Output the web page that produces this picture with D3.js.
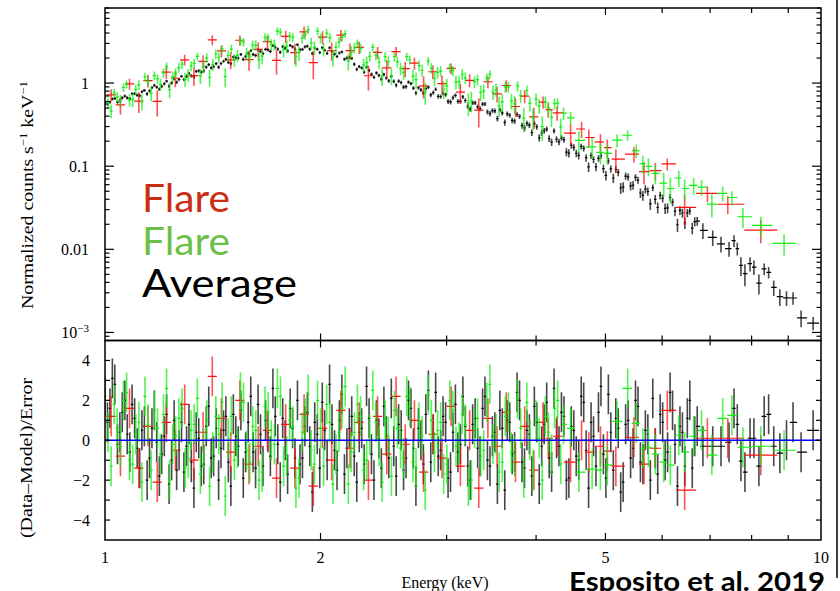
<!DOCTYPE html>
<html>
<head>
<meta charset="utf-8">
<script src="https://cdn.jsdelivr.net/npm/d3@7"></script>
<style>
  body { margin: 0; background: #fff; }
  svg { display: block; }
</style>
</head>
<body>
<div id="chart"></div>
<script>
// each bin: [energy keV, model counts s^-1 keV^-1, error as fraction of model, (data-model)/error]
const averagePoints = [
  [1.000,.52,.045,2.2],[1.008,.535,.045,0.9],[1.016,.55,.045,1.6],[1.024,.565,.045,3.1],[1.032,.58,.045,2.8],[1.041,.595,.045,-0.2],[1.049,.61,.045,0.4],[1.057,.625,.045,1.4],[1.066,.64,.045,2.0],[1.074,.655,.045,0.3],
  [1.083,.67,.045,-0.6],[1.091,.69,.045,1.8],[1.100,.71,.045,1.1],[1.109,.73,.045,-0.4],[1.118,.75,.045,-1.4],[1.126,.77,.045,0.5],[1.135,.79,.045,0.7],[1.145,.815,.045,-2.0],[1.154,.84,.045,-0.9],[1.163,.86,.045,0.6],
  [1.172,.88,.045,1.5],[1.181,.90,.045,-0.1],[1.191,.92,.045,-1.8],[1.200,.945,.045,-0.7],[1.210,.97,.045,0.2],[1.219,.995,.045,1.3],[1.229,1.02,.045,-2.2],[1.239,1.05,.045,-1.0],[1.249,1.08,.045,1.0],[1.259,1.10,.045,-1.5],
  [1.269,1.13,.045,-0.5],[1.279,1.16,.045,0.9],[1.289,1.19,.045,-1.6],[1.300,1.22,.045,-0.3],[1.310,1.26,.045,0.8],[1.320,1.29,.045,-1.1],[1.331,1.33,.045,-2.4],[1.341,1.36,.045,0.4],[1.352,1.40,.045,0.1],[1.363,1.44,.045,-1.3],
  [1.374,1.48,.045,-1.2],[1.385,1.51,.045,0.7],[1.396,1.55,.045,1.7],[1.407,1.59,.045,-0.9],[1.418,1.63,.045,-0.8],[1.430,1.67,.045,0.6],[1.441,1.71,.045,-2.0],[1.452,1.75,.045,-0.4],[1.464,1.79,.045,0.5],[1.475,1.83,.045,1.2],
  [1.487,1.87,.045,-1.1],[1.499,1.91,.045,-2.3],[1.511,1.95,.045,1.3],[1.523,1.99,.045,0.2],[1.535,2.03,.045,-0.3],[1.548,2.07,.045,1.5],[1.560,2.11,.045,-1.9],[1.572,2.15,.045,-0.6],[1.585,2.19,.045,0.9],[1.598,2.23,.045,2.2],
  [1.610,2.27,.045,-0.6],[1.623,2.30,.045,-1.4],[1.636,2.34,.045,1.8],[1.649,2.38,.045,0.3],[1.662,2.41,.045,-1.3],[1.676,2.44,.045,1.0],[1.689,2.47,.045,0.4],[1.702,2.50,.045,-0.8],[1.716,2.53,.045,2.6],[1.729,2.56,.045,1.2],
  [1.743,2.58,.045,-0.2],[1.757,2.60,.045,-2.1],[1.771,2.62,.045,1.1],[1.785,2.63,.045,0.0],[1.799,2.64,.045,-1.7],[1.814,2.65,.045,1.6],[1.828,2.66,.045,0.6],[1.842,2.66,.045,-0.9],[1.857,2.66,.045,2.0],[1.872,2.66,.045,-1.2],
  [1.887,2.65,.045,-0.9],[1.902,2.64,.045,0.7],[1.917,2.62,.045,1.4],[1.932,2.60,.045,-0.3],[1.948,2.57,.045,-2.6],[1.963,2.55,.045,0.9],[1.979,2.52,.045,0.3],[1.995,2.49,.045,-1.4],[2.011,2.46,.045,1.9],[2.027,2.43,.045,0.5],
  [2.043,2.39,.045,-1.0],[2.059,2.36,.045,2.8],[2.075,2.32,.045,0.8],[2.092,2.28,.045,-0.5],[2.109,2.24,.045,-1.5],[2.125,2.20,.045,1.0],[2.142,2.15,.045,2.3],[2.160,2.10,.045,-1.7],[2.177,2.04,.045,-0.4],[2.194,1.97,.045,0.6],
  [2.211,1.88,.045,1.2],[2.229,1.75,.045,-0.8],[2.247,1.62,.045,-2.1],[2.265,1.55,.045,0.4],[2.283,1.48,.045,0.6],[2.301,1.43,.045,-1.2],[2.319,1.39,.045,2.7],[2.338,1.355,.045,1.1],[2.356,1.32,.045,-0.7],[2.375,1.29,.045,-2.0],
  [2.394,1.26,.05,1.0],[2.413,1.23,.05,0.1],[2.432,1.20,.05,-1.4],[2.452,1.17,.05,1.7],[2.471,1.14,.05,0.2],[2.491,1.115,.05,-0.9],[2.511,1.09,.05,2.1],[2.531,1.065,.05,-0.3],[2.551,1.04,.052,-1.8],[2.571,1.015,.052,0.8],
  [2.592,.99,.052,0.5],[2.612,.97,.052,-1.5],[2.633,.95,.052,-0.9],[2.654,.93,.052,2.0],[2.675,.91,.052,1.6],[2.696,.89,.052,-0.4],[2.718,.87,.055,-2.3],[2.740,.85,.055,0.6],[2.762,.83,.055,0.0],[2.784,.815,.055,-1.2],
  [2.806,.80,.055,1.3],[2.829,.785,.055,2.5],[2.851,.77,.058,-1.1],[2.874,.755,.058,0.3],[2.896,.74,.058,2.4],[2.920,.725,.058,-0.8],[2.943,.71,.058,-0.5],[2.966,.70,.058,1.2],[2.990,.69,.058,0.9],[3.014,.675,.058,-1.9],
  [3.038,.66,.062,-1.6],[3.062,.65,.062,0.4],[3.086,.64,.062,1.8],[3.111,.625,.062,-0.6],[3.136,.61,.062,-0.2],[3.161,.60,.062,2.2],[3.186,.59,.065,0.7],[3.211,.575,.065,-1.3],[3.237,.56,.065,-2.0],[3.262,.55,.065,0.8],
  [3.288,.54,.065,1.1],[3.315,.53,.065,-0.4],[3.341,.52,.065,-0.8],[3.368,.505,.065,1.6],[3.394,.49,.065,2.2],[3.421,.48,.065,-1.0],[3.449,.47,.068,-1.3],[3.476,.46,.068,0.2],[3.504,.45,.068,0.4],[3.532,.44,.068,-2.2],
  [3.560,.43,.072,1.5],[3.588,.42,.072,0.6],[3.617,.41,.072,-2.5],[3.646,.397,.072,1.0],[3.675,.385,.072,0.9],[3.704,.375,.072,-0.7],[3.733,.365,.075,-0.6],[3.763,.355,.075,2.4],[3.793,.345,.075,2.0],[3.823,.335,.075,-1.1],
  [3.854,.325,.078,-1.4],[3.884,.315,.078,0.5],[3.915,.305,.078,0.3],[3.946,.295,.078,-1.8],[3.978,.285,.082,1.7],[4.009,.276,.082,0.9],[4.041,.268,.082,-2.2],[4.073,.259,.082,-0.3],[4.106,.25,.085,0.8],[4.139,.241,.085,1.9],
  [4.172,.233,.085,-0.9],[4.205,.225,.085,-1.6],[4.238,.217,.088,2.6],[4.272,.209,.088,0.1],[4.306,.202,.088,-0.3],[4.340,.195,.088,1.4],[4.375,.188,.092,1.2],[4.410,.181,.092,-2.0],[4.445,.174,.092,-1.9],[4.480,.167,.092,0.7],
  [4.516,.161,.095,0.5],[4.552,.155,.095,-0.8],[4.588,.149,.095,-1.0],[4.625,.143,.095,2.2],[4.662,.138,.098,1.9],[4.699,.133,.098,-0.5],[4.736,.128,.098,-2.4],[4.774,.123,.098,0.9],[4.812,.118,.1,0.2],[4.850,.113,.1,-1.3],
  [4.889,.109,.1,1.4],[4.928,.105,.1,2.7],[4.967,.101,.105,-0.7],[5.007,.097,.105,-1.9],[5.047,.093,.105,2.3],[5.087,.089,.105,0.4],[5.128,.086,.108,-1.5],[5.169,.082,.108,1.1],[5.210,.079,.108,0.6],[5.251,.076,.108,-2.6],
  [5.293,.073,.11,-2.1],[5.335,.070,.11,0.8],[5.378,.067,.11,1.0],[5.421,.0645,.11,-0.9],[5.464,.062,.115,-0.4],[5.507,.0595,.115,2.0],[5.551,.057,.115,1.7],[5.595,.0545,.115,-1.1],[5.640,.052,.118,-1.2],[5.685,.050,.118,0.5],
  [5.730,.048,.118,0.3],[5.776,.046,.118,-2.0],[5.822,.044,.12,2.1],[5.868,.042,.12,-0.4],[5.915,.040,.12,-1.7],[5.962,.0385,.12,1.3],[6.010,.037,.125,0.9],[6.058,.0355,.125,-1.0],[6.106,.034,.125,-0.6],[6.155,.0325,.125,2.4],
  [6.204,.031,.128,1.5],[6.253,.0295,.128,-0.2],[6.303,.028,.128,-2.3],[6.353,.027,.128,0.7],[6.404,.026,.13,0.4],[6.455,.025,.13,-1.3],[6.506,.024,.13,1.1],[6.558,.023,.13,2.0],[6.610,.022,.13,-1.4],[6.663,.021,.13,0.2],
  [6.716,.020,.13,0.7],[6.84,.018,.2,-0.3],[7.06,.0148,.2,-0.3],[7.25,.0124,.2,-0.3],[7.44,.0104,.2,-0.1],[7.56,.0094,.22,1.6],[7.64,.0088,.2,0.8],[7.73,.0081,.2,-1.05],[7.83,.0075,.2,-1.6],[7.96,.0066,.2,0.1],
  [8.06,.006,.2,0.1],[8.19,.0053,.2,-1.3],[8.33,.0047,.2,1.2],[8.45,.0042,.2,1.3],[8.59,.0037,.2,-0.3],[8.76,.0031,.2,-0.65],[8.95,.0026,.2,0.0],[9.14,.0022,.2,0.9],[9.38,.0017,.2,-0.6],[9.75,.00118,.2,0.5]
];

const flareGreenPoints = [
  [1.010,.55,.15,0.4],[1.020,.575,.15,-1.3],[1.030,.60,.15,1.8],[1.040,.625,.15,0.6],[1.051,.65,.15,-0.3],[1.061,.68,.15,2.0],[1.072,.71,.15,2.4],[1.082,.74,.15,-1.0],[1.093,.77,.15,-1.2],[1.104,.805,.15,0.3],
  [1.115,.84,.15,0.9],[1.126,.87,.15,-2.1],[1.137,.90,.15,2.2],[1.148,.935,.15,0.8],[1.160,.97,.15,-1.5],[1.172,1.005,.15,1.5],[1.184,1.04,.15,0.6],[1.195,1.075,.15,-0.7],[1.207,1.11,.15,1.3],[1.219,1.15,.15,2.6],
  [1.231,1.19,.15,-2.0],[1.243,1.23,.15,-0.2],[1.255,1.27,.15,0.2],[1.268,1.315,.15,1.1],[1.281,1.36,.15,1.6],[1.294,1.405,.15,-1.4],[1.307,1.45,.15,-0.9],[1.319,1.495,.15,0.5],[1.332,1.54,.15,0.8],[1.346,1.59,.15,2.1],
  [1.359,1.64,.15,-1.7],[1.373,1.69,.15,-0.4],[1.387,1.74,.15,1.0],[1.400,1.79,.15,-2.3],[1.414,1.84,.15,-0.6],[1.428,1.895,.15,1.2],[1.442,1.95,.15,0.3],[1.457,2.005,.15,1.9],[1.472,2.06,.15,-2.8],[1.486,2.115,.15,0.1],
  [1.501,2.17,.15,1.2],[1.516,2.23,.15,-1.0],[1.531,2.29,.15,-0.4],[1.546,2.35,.15,2.4],[1.561,2.41,.15,1.9],[1.577,2.47,.15,-0.5],[1.593,2.53,.15,-1.1],[1.608,2.59,.15,0.7],[1.624,2.65,.15,0.5],[1.641,2.71,.15,-2.0],
  [1.657,2.77,.15,-1.6],[1.673,2.825,.15,1.7],[1.690,2.88,.15,1.4],[1.707,2.935,.15,0.0],[1.724,2.99,.15,-0.2],[1.741,3.035,.15,2.6],[1.758,3.08,.15,2.2],[1.776,3.12,.15,-1.3],[1.794,3.16,.15,-0.8],[1.811,3.19,.15,1.0],
  [1.829,3.22,.15,0.7],[1.848,3.24,.15,-2.4],[1.866,3.26,.15,-1.9],[1.885,3.27,.15,0.4],[1.904,3.28,.15,1.1],[1.922,3.275,.15,2.3],[1.941,3.27,.15,-0.5],[1.961,3.255,.15,-1.2],[1.981,3.24,.15,2.0],[2.000,3.21,.15,0.6],
  [2.020,3.18,.15,-1.3],[2.040,3.14,.15,1.8],[2.060,3.10,.15,0.9],[2.081,3.05,.15,-2.2],[2.102,3.00,.15,-0.7],[2.122,2.94,.15,0.4],[2.143,2.88,.15,1.6],[2.165,2.80,.15,2.7],[2.187,2.72,.15,-2.2],[2.208,2.61,.15,-0.6],
  [2.230,2.50,.15,0.4],[2.252,2.36,.15,1.8],[2.275,2.22,.15,1.2],[2.297,2.14,.15,-1.5],[2.320,2.07,.15,-1.0],[2.343,2.01,.15,0.3],[2.366,1.96,.15,2.5],[2.390,1.91,.15,0.9],[2.414,1.87,.16,-0.3],[2.438,1.83,.16,-2.1],
  [2.462,1.79,.16,1.0],[2.487,1.75,.16,0.2],[2.512,1.71,.16,-1.8],[2.536,1.675,.16,1.5],[2.561,1.64,.16,0.6],[2.587,1.605,.16,-0.4],[2.613,1.57,.16,-0.9],[2.639,1.535,.16,2.2],[2.665,1.50,.16,1.7],[2.692,1.47,.16,-1.1],
  [2.719,1.44,.17,-1.4],[2.746,1.41,.17,0.9],[2.773,1.38,.17,0.2],[2.800,1.35,.17,-2.5],[2.828,1.32,.17,2.3],[2.856,1.295,.17,1.0],[2.885,1.27,.17,-0.6],[2.914,1.24,.17,0.5],[2.943,1.21,.17,0.9],[2.972,1.185,.17,-1.7],
  [3.002,1.16,.17,-1.2],[3.031,1.135,.17,2.0],[3.061,1.11,.18,1.5],[3.092,1.085,.18,-0.3],[3.123,1.06,.18,-0.1],[3.154,1.035,.18,1.3],[3.186,1.01,.18,0.8],[3.217,.985,.18,-2.3],[3.249,.96,.18,-2.0],[3.281,.94,.18,0.6],
  [3.314,.92,.18,1.1],[3.347,.90,.18,-0.8],[3.380,.88,.18,-0.5],[3.414,.855,.18,1.9],[3.448,.83,.19,2.8],[3.482,.81,.19,-0.2],[3.517,.79,.19,0.3],[3.552,.77,.19,-1.6],[3.588,.75,.19,-1.1],[3.623,.73,.19,1.2],
  [3.659,.71,.19,1.4],[3.695,.69,.19,-0.6],[3.732,.67,.2,-0.8],[3.769,.65,.2,2.1],[3.807,.63,.2,0.6],[3.845,.61,.2,-1.9],[3.883,.59,.2,1.9],[3.922,.57,.2,0.0],[3.961,.55,.2,-1.5],[4.000,.535,.2,1.0],
  [4.040,.52,.2,0.1],[4.080,.50,.2,-2.0],[4.121,.48,.2,1.2],[4.161,.465,.2,0.4],[4.203,.45,.2,-0.7],[4.245,.43,.2,1.6],[4.287,.41,.2,2.0],[4.330,.39,.2,-1.2],[4.37,.375,.2,0.8],[4.47,.34,.2,0.6],
  [4.59,.30,.2,-1.6],[4.79,.24,.2,-1.45],[4.92,.21,.2,-1.5],[5.03,.19,.2,-1.25],[5.19,.17,.22,0.95],[5.37,.15,.22,2.6],[5.52,.13,.22,0.85],[5.64,.118,.22,-0.4],[5.74,.108,.22,-0.35],[5.87,.097,.22,-0.7],
  [6.03,.085,.24,-1.1],[6.16,.077,.24,-1.25],[6.33,.068,.24,0.25],[6.45,.063,.24,-0.6],[6.64,.056,.24,0.2],[6.81,.05,.24,0.5],[7.04,.043,.25,-0.75],[7.29,.037,.25,1.1],[7.51,.032,.25,1.25],[7.78,.027,.25,-0.35],
  [8.24,.021,.25,-0.3],[8.88,.0135,.25,-0.5]
];

const flareRedPoints = [
  [1.020,.58,.2,1.2],[1.051,.65,.2,-0.8],[1.082,.74,.2,1.6],[1.115,.84,.2,-1.4],[1.148,.94,.2,0.7],[1.183,1.04,.2,-2.1],[1.218,1.15,.2,0.9],[1.254,1.27,.2,-0.5],[1.292,1.40,.2,1.8],[1.331,1.54,.2,-1.0],
  [1.371,1.69,.2,0.4],[1.412,1.84,.25,3.2],[1.454,2.00,.2,1.1],[1.498,2.16,.2,-0.6],[1.543,2.34,.2,2.0],[1.589,2.52,.2,-1.2],[1.637,2.70,.2,-0.3],[1.686,2.87,.2,0.5],[1.736,3.02,.2,-1.9],[1.788,3.14,.2,0.8],
  [1.842,3.23,.2,-1.4],[1.897,3.28,.2,1.3],[1.954,3.27,.2,-2.3],[2.013,3.19,.2,0.6],[2.073,3.07,.2,-1.0],[2.135,2.90,.2,1.5],[2.199,2.67,.2,-0.4],[2.265,2.28,.2,0.9],[2.333,2.04,.2,-2.0],[2.403,1.89,.2,1.2],
  [2.475,1.77,.2,-0.7],[2.550,1.66,.2,2.2],[2.626,1.55,.2,-0.2],[2.705,1.45,.2,1.0],[2.786,1.36,.2,-1.6],[2.870,1.29,.2,0.3],[2.956,1.20,.2,-0.9],[3.044,1.12,.2,1.7],[3.136,1.05,.2,-1.3],[3.230,.98,.2,0.5],
  [3.327,.91,.2,-2.4],[3.426,.85,.2,1.1],[3.529,.79,.2,-0.3],[3.635,.73,.2,1.4],[3.744,.67,.2,-1.1],[3.856,.61,.2,0.7],[3.972,.56,.2,-1.5],[4.091,.50,.2,0.9],[4.16,.47,.2,0.1],[4.28,.42,.2,0.2],
  [4.47,.33,.22,-1.1],[4.63,.28,.22,0.0],[4.74,.255,.22,-0.6],[4.92,.21,.22,-0.3],[5.03,.19,.22,-0.55],[5.17,.17,.22,-1.3],[5.48,.135,.22,0.15],[5.66,.117,.22,-1.2],[5.87,.097,.22,-0.4],[6.10,.08,.22,1.5],
  [6.45,.064,.2,-2.5],[6.94,.046,.22,0.1],[7.41,.034,.25,0.1],[8.24,.021,.25,-0.75]
];

const seriesColors = { average: "#000000", red: "#ff1010", green: "#10ee10" };
const legendLabels = ["Flare", "Flare", "Average"];
const legendColors = ["#cc2d12", "#6dbf47", "#000000"];
const xTickLabels = [1, 2, 5, 10];
const countTickLabels = [
  { v: 1, t: "1" }, { v: 0.1, t: "0.1" }, { v: 0.01, t: "0.01" }, { v: 0.001, t: "10", sup: "\u22123" }
];
const residTicks = [-4, -3, -2, -1, 0, 1, 2, 3, 4];
const residTickLabels = [4, 2, 0, -2, -4];

const width = 840, height = 591;
const frame = { l: 105, r: 821, t: 8, m: 340.5, b: 540 };
const serif = "'Liberation Serif', 'Times New Roman', serif";

const svg = d3.select("#chart").append("svg")
  .attr("width", width).attr("height", height)
  .attr("viewBox", [0, 0, width, height]);

const x = d3.scaleLog().domain([1, 10]).range([frame.l, frame.r]);
const yCounts = d3.scaleLog().domain([8e-4, 8]).range([frame.m, frame.t]);
const yResid = d3.scaleLinear().domain([-5, 5]).range([frame.b, frame.m]);

const defs = svg.append("defs");
defs.append("clipPath").attr("id", "clipTop").append("rect")
  .attr("x", frame.l).attr("y", frame.t).attr("width", frame.r - frame.l).attr("height", frame.m - frame.t);
defs.append("clipPath").attr("id", "clipRes").append("rect")
  .attr("x", frame.l).attr("y", frame.m).attr("width", frame.r - frame.l).attr("height", frame.b - frame.m);

// bin edges halfway (in log) between neighbouring bin centres
const binEdges = pts => pts.map((p, i) => {
  const prev = i > 0 ? pts[i - 1][0] : p[0] * p[0] / pts[i + 1][0];
  const next = i < pts.length - 1 ? pts[i + 1][0] : p[0] * p[0] / pts[i - 1][0];
  return [Math.sqrt(prev * p[0]), Math.sqrt(p[0] * next)];
});

const drawSeries = (pts, color) => {
  const edges = binEdges(pts);
  // data = model + residual * error, the usual xspec definition
  const rows = pts.map((p, i) => {
    const sigma = p[1] * p[2];
    const data = p[1] + p[3] * sigma;
    return { e: p[0], data, lo: data - sigma, hi: data + sigma, r: p[3], e0: edges[i][0], e1: edges[i][1] };
  });

  const gTop = svg.append("g").attr("clip-path", "url(#clipTop)").attr("stroke", color);
  gTop.selectAll("line.v").data(rows).join("line").attr("class", "v")
    .attr("x1", d => x(d.e)).attr("x2", d => x(d.e))
    .attr("y1", d => yCounts(Math.max(d.lo, 1e-5))).attr("y2", d => yCounts(d.hi))
    .attr("stroke-width", 1.6).attr("stroke-opacity", 0.72);
  gTop.selectAll("line.h").data(rows).join("line").attr("class", "h")
    .attr("x1", d => x(d.e0)).attr("x2", d => x(d.e1))
    .attr("y1", d => yCounts(d.data)).attr("y2", d => yCounts(d.data))
    .attr("stroke-width", 1.2);

  const gRes = svg.append("g").attr("clip-path", "url(#clipRes)").attr("stroke", color);
  gRes.selectAll("line.v").data(rows).join("line").attr("class", "v")
    .attr("x1", d => x(d.e)).attr("x2", d => x(d.e))
    .attr("y1", d => yResid(d.r - 1)).attr("y2", d => yResid(d.r + 1))
    .attr("stroke-width", 1.6).attr("stroke-opacity", 0.72);
  gRes.selectAll("line.h").data(rows).join("line").attr("class", "h")
    .attr("x1", d => x(d.e0)).attr("x2", d => x(d.e1))
    .attr("y1", d => yResid(d.r)).attr("y2", d => yResid(d.r))
    .attr("stroke-width", 1.2);
};

drawSeries(averagePoints, seriesColors.average);
drawSeries(flareRedPoints, seriesColors.red);
drawSeries(flareGreenPoints, seriesColors.green);

// zero line of the residuals
svg.append("line")
  .attr("x1", frame.l).attr("x2", frame.r)
  .attr("y1", yResid(0)).attr("y2", yResid(0))
  .attr("stroke", "#0000ff").attr("stroke-width", 1.5);

// frames
svg.append("rect").attr("x", frame.l).attr("y", frame.t).attr("width", frame.r - frame.l).attr("height", frame.m - frame.t)
  .attr("fill", "none").attr("stroke", "#000").attr("stroke-width", 1.5);
svg.append("rect").attr("x", frame.l).attr("y", frame.m).attr("width", frame.r - frame.l).attr("height", frame.b - frame.m)
  .attr("fill", "none").attr("stroke", "#000").attr("stroke-width", 1.5);
svg.append("line").attr("x1", 837).attr("x2", 837).attr("y1", 0).attr("y2", 578)
  .attr("stroke", "#000").attr("stroke-width", 1.5);

const ticks = svg.append("g").attr("stroke", "#000").attr("stroke-width", 1.2);

// energy ticks on every horizontal edge, pointing inward
const xt = x.ticks().filter(v => v > 1 && v < 10);
[[frame.t, 1], [frame.m, -1], [frame.m, 1], [frame.b, -1]].forEach(([y0, dir]) => {
  ticks.append("g").selectAll("line").data(xt).join("line")
    .attr("x1", d => x(d)).attr("x2", d => x(d))
    .attr("y1", y0).attr("y2", d => y0 + dir * ([2, 5].includes(d) ? 7 : 5));
});

// log ticks of the spectrum panel, integer ticks of the residual panel
const yt = yCounts.ticks();
const isDecade = v => Math.abs(Math.log10(v) - Math.round(Math.log10(v))) < 1e-6;
[[frame.l, 1], [frame.r, -1]].forEach(([x0, dir]) => {
  ticks.append("g").selectAll("line").data(yt).join("line")
    .attr("y1", d => yCounts(d)).attr("y2", d => yCounts(d))
    .attr("x1", x0).attr("x2", d => x0 + dir * (isDecade(d) ? 9 : 4.5));
  ticks.append("g").selectAll("line").data(residTicks).join("line")
    .attr("y1", d => yResid(d)).attr("y2", d => yResid(d))
    .attr("x1", x0).attr("x2", x0 + dir * 5);
});

const labels = svg.append("g").attr("font-family", serif).attr("font-size", 16).attr("fill", "#000");

labels.append("g").attr("text-anchor", "middle").selectAll("text").data(xTickLabels).join("text")
  .attr("x", d => x(d)).attr("y", 563).text(d => d);

const ct = labels.append("g").attr("text-anchor", "end").selectAll("text").data(countTickLabels).join("text")
  .attr("x", 89).attr("y", d => yCounts(d.v)).attr("dy", "0.35em");
ct.append("tspan").text(d => d.t);
ct.filter(d => d.sup).append("tspan").attr("dy", -6).attr("font-size", 11).text(d => d.sup);

labels.append("g").attr("text-anchor", "end").selectAll("text").data(residTickLabels).join("text")
  .attr("x", 90).attr("y", d => yResid(d)).attr("dy", "0.35em")
  .text(d => d < 0 ? "\u2212" + Math.abs(d) : d);

labels.append("text").attr("x", 445).attr("y", 588).attr("text-anchor", "middle").text("Energy (keV)");

const yl = labels.append("text").attr("transform", "translate(33,195) rotate(-90)")
  .attr("text-anchor", "middle").attr("font-size", 17)
  .attr("textLength", 228).attr("lengthAdjust", "spacingAndGlyphs");
yl.append("tspan").text("Normalized counts s");
yl.append("tspan").attr("dy", -6).attr("font-size", 11).text("\u22121");
yl.append("tspan").attr("dy", 6).text(" keV");
yl.append("tspan").attr("dy", -6).attr("font-size", 11).text("\u22121");

labels.append("text").attr("transform", "translate(32,458) rotate(-90)")
  .attr("text-anchor", "middle").attr("font-size", 17)
  .attr("textLength", 160).attr("lengthAdjust", "spacingAndGlyphs")
  .text("(Data\u2013Model)/Error");

// legend
svg.append("g").attr("font-family", "Lato, 'Open Sans', sans-serif").attr("font-size", 38)
  .selectAll("text").data(legendLabels).join("text")
  .attr("x", 142).attr("y", (d, i) => 212 + i * 42.5)
  .attr("fill", (d, i) => legendColors[i])
  .attr("textLength", d => d === "Average" ? 155 : 88).attr("lengthAdjust", "spacingAndGlyphs")
  .text(d => d);

svg.append("text").attr("x", 569).attr("y", 591)
  .attr("font-family", "Lato, 'Open Sans', sans-serif").attr("font-weight", 700).attr("font-size", 26)
  .attr("textLength", 256).attr("lengthAdjust", "spacingAndGlyphs")
  .text("Esposito et al. 2019");
</script>
</body>
</html>
